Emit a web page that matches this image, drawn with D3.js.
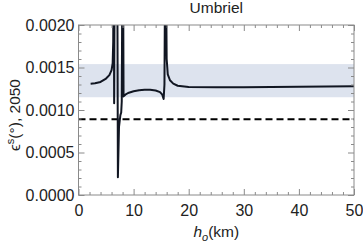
<!DOCTYPE html>
<style>
body { margin: 0; background: #fff; }
text { font-family: "Liberation Sans", Arial, sans-serif; fill: #222; }
</style>
<svg width="363" height="245"></svg>
<script src="https://d3js.org/d3.v7.min.js"></script>
<script>

// h_o (km) and epsilon^s values (values above the frame are clipped)
var hs   = [2.2, 3, 4, 5, 5.6, 6.0, 6.2, 6.3, 6.35, 6.42, 6.47, 6.55, 6.8, 7.05, 7.15, 7.35, 7.6, 7.75, 7.85, 7.95, 8.1, 8.18, 8.5, 9, 10, 11, 12, 13, 14, 14.8, 15.2, 15.45, 15.6, 15.7, 15.9, 16.0, 16.2, 16.6, 17.2, 18, 20, 25, 30, 35, 40, 45, 50];
var eps  = [0.00131, 0.001315, 0.00133, 0.00137, 0.00141, 0.00147, 0.00155, 0.0018, 0.0025, 0.0025, 0.00108, 0.0025, 0.0025, 0.0025, 0.00021, 0.0008, 0.00094, 0.00097, 0.0011, 0.0025, 0.0025, 0.00116, 0.00118, 0.0012, 0.00122, 0.001232, 0.001238, 0.001238, 0.00123, 0.00121, 0.00118, 0.00113, 0.0013, 0.0025, 0.0025, 0.0016, 0.00142, 0.00135, 0.00131, 0.001285, 0.00127, 0.001268, 0.001268, 0.00127, 0.001273, 0.001277, 0.00128];

var band = [0.00115, 0.00154];
var dashedLevel = 0.00089;
var xTicks = [0, 10, 20, 30, 40, 50];
var yTicks = [0, 0.0005, 0.001, 0.0015, 0.002];

var svg = d3.select("svg"),
    margin = {top: 25, right: 9, bottom: 50, left: 78.5},
    width = 363 - margin.left - margin.right,
    height = 245 - margin.top - margin.bottom,
    g = svg.append("g").attr("transform", "translate(" + margin.left + "," + margin.top + ")");

var x = d3.scaleLinear().domain([0, 50]).range([0, width]);
var y = d3.scaleLinear().domain([0, 0.002]).range([height, 0]);

svg.append("defs").append("clipPath").attr("id", "clip")
  .append("rect").attr("width", width).attr("height", height);

var plot = g.append("g").attr("clip-path", "url(#clip)");

plot.append("rect")
    .attr("x", 0)
    .attr("y", y(band[1]))
    .attr("width", width)
    .attr("height", y(band[0]) - y(band[1]))
    .attr("fill", "#dde3ee");

plot.append("line")
    .attr("x1", 0).attr("x2", width)
    .attr("y1", y(dashedLevel)).attr("y2", y(dashedLevel))
    .attr("stroke", "#000")
    .attr("stroke-width", 2)
    .attr("stroke-dasharray", "7,4");

var line = d3.line()
    .x(function(d, i) { return x(hs[i]); })
    .y(function(d) { return y(d); });

plot.append("path")
    .datum(eps)
    .attr("d", line)
    .attr("fill", "none")
    .attr("stroke", "#111622")
    .attr("stroke-width", 2)
    .attr("stroke-linejoin", "round");

// frame with inward ticks on all sides, Mathematica style
var tickColor = "#8a8a8a";
function styleAxis(sel, hideText) {
  sel.select(".domain").remove();
  sel.selectAll("line").attr("stroke", tickColor);
  sel.selectAll("text").style("font-size", "16px").attr("fill", "#222");
  if (hideText) sel.selectAll("text").remove();
}

var xMinor = d3.range(0, 51, 2).filter(function(v) { return v % 10 !== 0; });
var yMinor = d3.range(0, 21).map(function(v) { return v / 10000; }).filter(function(v, i) { return i % 5 !== 0; });

g.append("g").attr("transform", "translate(0," + height + ")")
  .call(d3.axisBottom(x).tickValues(xTicks).tickSize(-6).tickPadding(10))
  .call(styleAxis);
g.append("g").attr("transform", "translate(0," + height + ")")
  .call(d3.axisBottom(x).tickValues(xMinor).tickSize(-3))
  .call(styleAxis, true);
g.append("g")
  .call(d3.axisTop(x).tickValues(xTicks).tickSize(-6))
  .call(styleAxis, true);
g.append("g")
  .call(d3.axisTop(x).tickValues(xMinor).tickSize(-3))
  .call(styleAxis, true);

g.append("g")
  .call(d3.axisLeft(y).tickValues(yTicks).tickFormat(d3.format(".4f")).tickSize(-6).tickPadding(4))
  .call(styleAxis);
g.append("g")
  .call(d3.axisLeft(y).tickValues(yMinor).tickSize(-3))
  .call(styleAxis, true);
g.append("g").attr("transform", "translate(" + width + ",0)")
  .call(d3.axisRight(y).tickValues(yTicks).tickSize(-6))
  .call(styleAxis, true);
g.append("g").attr("transform", "translate(" + width + ",0)")
  .call(d3.axisRight(y).tickValues(yMinor).tickSize(-3))
  .call(styleAxis, true);

g.append("rect")
    .attr("width", width)
    .attr("height", height)
    .attr("fill", "none")
    .attr("stroke", tickColor)
    .attr("stroke-width", 1);

svg.append("text")
    .attr("x", margin.left + width / 2)
    .attr("y", 13)
    .attr("text-anchor", "middle")
    .style("font-size", "15.5px")
    .text("Umbriel");

var xl = svg.append("text")
    .attr("x", margin.left + width / 2)
    .attr("y", 237)
    .attr("text-anchor", "middle")
    .style("font-size", "15.5px");
xl.append("tspan").attr("font-style", "italic").text("h");
xl.append("tspan").attr("font-style", "italic").attr("dy", 4).style("font-size", "11px").text("o");
xl.append("tspan").attr("dy", -4).text("(km)");

var yl = svg.append("text")
    .attr("transform", "translate(20," + (margin.top + height / 2 + 5) + ") rotate(-90)")
    .attr("text-anchor", "middle")
    .style("font-size", "15.5px");
yl.append("tspan").text("ϵ");
yl.append("tspan").attr("dy", -6).style("font-size", "11px").text("s");
yl.append("tspan").attr("dy", 6).text("(°), 2050");

</script>
